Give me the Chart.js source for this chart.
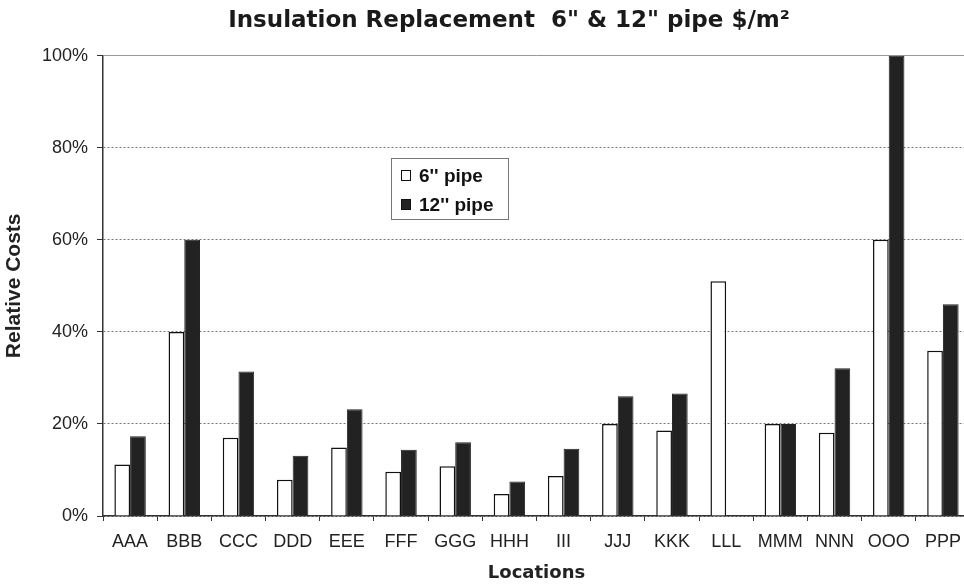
<!DOCTYPE html>
<html>
<head>
<meta charset="utf-8">
<script src="https://cdn.jsdelivr.net/npm/chart.js@4/dist/chart.umd.min.js"></script>
<style>
  html, body { margin: 0; padding: 0; background: #fff; overflow: hidden; }
  #wrap { width: 971px; height: 584px; }
</style>
</head>
<body>
<div id="wrap"><canvas id="chart"></canvas></div>
<script>
"use strict";

// Locations on the x axis
const locations = ['AAA', 'BBB', 'CCC', 'DDD', 'EEE', 'FFF', 'GGG', 'HHH',
                   'III', 'JJJ', 'KKK', 'LLL', 'MMM', 'NNN', 'OOO', 'PPP'];

// Relative costs in %
const pipe6 = [11.2, 40, 17, 7.9, 14.9, 9.6, 10.8, 4.8, 8.7, 20, 18.6, 51, 20, 18.1, 60, 35.9];
const pipe12 = [17.3, 60, 31.4, 13.1, 23.2, 14.4, 16, 7.5, 14.6, 26, 26.6, null, 20, 32.1, 100, 46];

const seriesNames = ["6'' pipe", "12'' pipe"];
const yTicks = [0, 20, 40, 60, 80, 100];
const chartTitle = 'Insulation Replacement  6" & 12" pipe $/m\u00b2';

const tickFont = { family: 'Liberation Sans, Arial, sans-serif', size: 18 };
const textColor = '#222';

// title sits a bit right of the canvas centre in the original, so draw it here
const offsetTitle = {
  id: 'offsetTitle',
  afterDraw(chart) {
    let _ctx = chart.ctx;
    _ctx.save();
    _ctx.font = 'bold 23px DejaVu Sans, sans-serif';
    _ctx.fillStyle = '#1a1a1a';
    _ctx.textAlign = 'center';
    _ctx.textBaseline = 'middle';
    _ctx.fillText(chartTitle, 509, 21);
    _ctx.restore();
  }
};

// legend box drawn inside the plot, like the original
const boxLegend = {
  id: 'boxLegend',
  afterDatasetsDraw(chart) {
    let _ctx = chart.ctx;
    let _ds = chart.data.datasets;
    _ctx.save();
    _ctx.strokeStyle = '#777';
    _ctx.lineWidth = 1;
    _ctx.fillStyle = '#fff';
    _ctx.fillRect(391, 158, 117, 61);
    _ctx.strokeRect(391.5, 158.5, 117, 61);

    _ctx.font = 'bold 19px Liberation Sans, Arial, sans-serif';
    _ctx.textBaseline = 'alphabetic';
    _ds.forEach(function(_item, _i) {
      let _y = 170 + _i * 29;
      _ctx.fillStyle = _item.backgroundColor;
      _ctx.fillRect(401, _y, 10, 11);
      _ctx.strokeStyle = '#111';
      _ctx.lineWidth = 1;
      _ctx.strokeRect(401.5, _y + 0.5, 9, 10);
      _ctx.fillStyle = '#111';
      _ctx.fillText(_item.label, 419, _y + 12);
    });
    _ctx.restore();
  }
};

new Chart(document.getElementById('chart'), {
  type: 'bar',
  data: {
    labels: locations,
    datasets: [
      {
        label: seriesNames[0],
        data: pipe6,
        backgroundColor: '#ffffff',
        borderColor: '#111',
        borderWidth: 1.5,
        categoryPercentage: 0.58,
        barPercentage: 1.0
      },
      {
        label: seriesNames[1],
        data: pipe12,
        backgroundColor: '#222222',
        borderColor: '#222222',
        borderWidth: 1,
        categoryPercentage: 0.58,
        barPercentage: 1.0
      }
    ]
  },
  options: {
    responsive: true,
    maintainAspectRatio: false,
    animation: false,
    devicePixelRatio: 1,
    layout: { padding: { left: 0, right: 1, top: 55.7, bottom: 0 } },
    plugins: {
      legend: { display: false },
      tooltip: { enabled: false },
      title: { display: false }
    },
    scales: {
      x: {
        grid: {
          offset: true,
          drawOnChartArea: false,
          tickLength: 5,
          tickColor: '#333',
          tickWidth: 1
        },
        border: { color: '#333', width: 1.5 },
        ticks: { color: textColor, font: tickFont, padding: 10, maxRotation: 0, autoSkip: false },
        title: {
          display: true,
          text: 'Locations',
          color: textColor,
          font: { family: 'DejaVu Sans, sans-serif', size: 18, weight: 'bold', lineHeight: 1.2 },
          padding: 0
        },
        afterFit(_scale) { _scale.height = 68; }
      },
      y: {
        min: 0,
        max: 100,
        afterBuildTicks(_scale) {
          _scale.ticks = yTicks.map(function(_v) { return { value: _v }; });
        },
        grid: {
          color: function(_c) { return _c.tick && _c.tick.value === 100 ? '#999' : '#777'; },
          lineWidth: 1,
          tickLength: 6,
          tickColor: '#333',
          tickBorderDash: []
        },
        border: {
          color: '#333',
          width: 1.5,
          dash: function(_c) { return _c.tick && _c.tick.value === 100 ? [] : [2, 2]; }
        },
        ticks: {
          color: textColor,
          font: tickFont,
          padding: 9,
          callback: function(_v) { return _v + '%'; }
        },
        title: {
          display: true,
          text: 'Relative Costs',
          color: textColor,
          font: { family: 'Liberation Sans, Arial, sans-serif', size: 21, weight: 'bold', lineHeight: 1.2 },
          padding: { top: 2, bottom: 0 }
        },
        afterFit(_scale) { _scale.width = 103; }
      }
    }
  },
  plugins: [boxLegend, offsetTitle]
});
</script>
</body>
</html>
